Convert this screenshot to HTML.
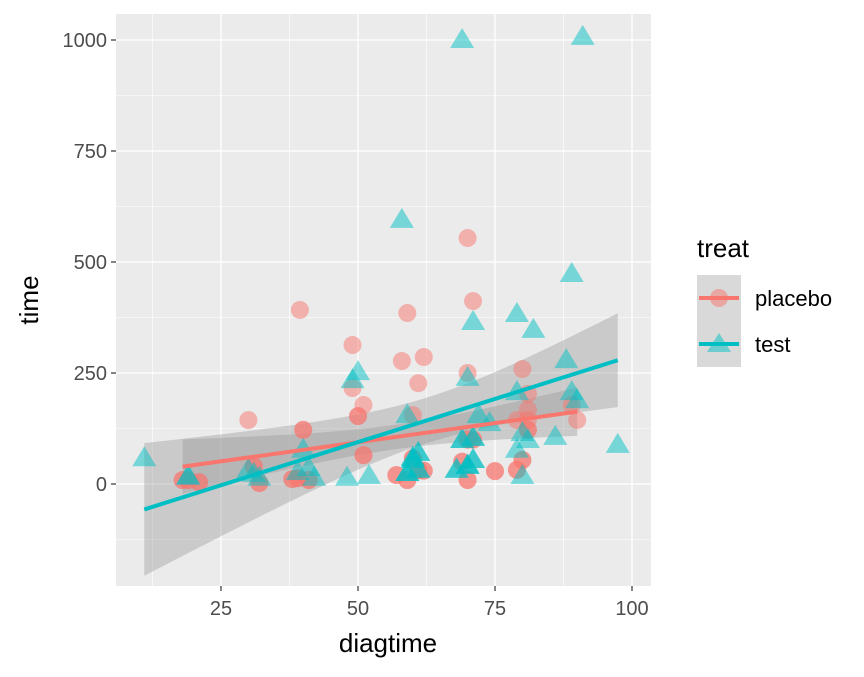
<!DOCTYPE html>
<html><head><meta charset="utf-8"><style>
body{margin:0;background:#fff;}
svg text{font-family:"Liberation Sans",Arial,sans-serif;}
</style></head><body>
<svg id="chart" width="864" height="672" xmlns="http://www.w3.org/2000/svg">
<rect x="0" y="0" width="864" height="672" fill="#fff"/>
<rect x="116" y="14" width="535" height="572" fill="#EBEBEB"/>
<g id="grid"></g><g id="bands"></g><g id="pts"></g><g id="lines"></g><g id="axes"></g>
<g>
<text x="697" y="257" font-size="26" fill="#000">treat</text>
<rect x="697" y="275" width="44" height="46" fill="#D9D9D9"/>
<rect x="697" y="321" width="44" height="46" fill="#D9D9D9"/>
<g>
<line x1="699" x2="739" y1="298" y2="298" stroke="#F8766D" stroke-width="4"/>
<circle cx="719" cy="298" r="9" fill="#F8766D" fill-opacity="0.5"/>
<text x="755" y="306" font-size="22" fill="#000">placebo</text></g>
<g>
<line x1="699" x2="739" y1="344" y2="344" stroke="#00BFC4" stroke-width="4"/>
<path d="M719,333 L731,352 L707,352 Z" fill="#00BFC4" fill-opacity="0.5"/>
<text x="755" y="352" font-size="22" fill="#000">test</text></g>
</g>
<text x="388" y="652" font-size="26" text-anchor="middle" fill="#000">diagtime</text>
<text transform="translate(38,300) rotate(-90)" font-size="26" text-anchor="middle" fill="#000">time</text>
</svg>
<script>
const placeboX=[18,19,21,30,31,32,39.4,40,39,38,41,49,49,50,51,51,59,58,61,62,60,60,59,57,61,62,70,71,70,69,70,75,70,71,80,81,81,81,81,80,79,79,90,89,
 18,21,32,38,39,41,51,57,59,60,61,62,69,70,75,79,80,70,71,81,31,19,40,50];
const placeboY=[9,9,4,144,40,2,392,122,13,11,9,313,216,153,178,65,385,277,227,286,155,58,9,20,31,30,554,412,250,50,9,29,100,100,259,203,167,122,144,54,32,144,144,178,
 9,4,2,11,13,9,65,20,9,58,31,30,50,9,29,32,54,100,100,122,40,9,122,153];
const testX=[11,19,19,30,31,32,39,40,41,42,48,49,50,52,59,59,60,60,58,61,61,69,70,71,70,69,71,72,71,74,79,82,80,79,79,80,81,86,89,89,88,90,91,97.4,68,
 59,60,61,61,70,71,68,60,59,69,71,70];
const testY=[58,18,16,32,23,14,27,77,36,14,14,234,252,18,155,25,54,59,595,32,70,1000,239,365,41,99,104,155,54,137,383,347,18,77,207,115,99,106,473,207,279,189,1007,88,32,
 25,54,32,70,41,54,32,59,25,99,104,41];
const xTicks=[25,50,75,100];
const yTicks=[0,250,500,750,1000];
const NS="http://www.w3.org/2000/svg";
const sx=v=>84+v*5.48, sy=v=>484-v*0.444;
function mk(tag,attrs,parent){const e=document.createElementNS(NS,tag);for(const k in attrs)e.setAttribute(k,attrs[k]);parent.appendChild(e);return e;}
const grid=document.getElementById('grid'),axes=document.getElementById('axes');
[12.5,37.5,62.5,87.5].forEach(v=>mk('line',{x1:sx(v),x2:sx(v),y1:14,y2:586,stroke:'#fff','stroke-width':0.6},grid));
[-125,125,375,625,875].forEach(v=>mk('line',{x1:116,x2:651,y1:sy(v),y2:sy(v),stroke:'#fff','stroke-width':0.6},grid));
xTicks.forEach(v=>{mk('line',{x1:sx(v),x2:sx(v),y1:14,y2:586,stroke:'#fff','stroke-width':1.3},grid);
 mk('line',{x1:sx(v),x2:sx(v),y1:586,y2:591,stroke:'#333','stroke-width':1.2},axes);
 const t=mk('text',{x:sx(v),y:615,'font-size':20,'text-anchor':'middle',fill:'#4D4D4D'},axes);t.textContent=v;
 
 });
yTicks.forEach(v=>{mk('line',{x1:116,x2:651,y1:sy(v),y2:sy(v),stroke:'#fff','stroke-width':1.3},grid);
 mk('line',{x1:111,x2:116,y1:sy(v),y2:sy(v),stroke:'#333','stroke-width':1.2},axes);
 const t=mk('text',{x:107,y:sy(v)+7,'font-size':20,'text-anchor':'end',fill:'#4D4D4D'},axes);t.textContent=v;
 
 });
function fit(X,Y,color,name){
 const n=X.length,mx=X.reduce((a,b)=>a+b)/n,my=Y.reduce((a,b)=>a+b)/n;
 let sxx=0,sxy=0;X.forEach((x,i)=>{sxx+=(x-mx)**2;sxy+=(x-mx)*(Y[i]-my);});
 const b=sxy/sxx,a=my-b*mx;let sse=0;X.forEach((x,i)=>sse+=(Y[i]-a-b*x)**2);
 const s=Math.sqrt(sse/(n-2)),lo=Math.min(...X),hi=Math.max(...X);
 const up=[],dn=[];
 for(let k=0;k<=40;k++){const x=lo+(hi-lo)*k/40,f=a+b*x,se=2.0*s*Math.sqrt(1/n+(x-mx)**2/sxx);up.push(sx(x)+','+sy(f+se));dn.unshift(sx(x)+','+sy(f-se));}
 const band=mk('polygon',{points:up.concat(dn).join(' '),fill:'#999','fill-opacity':0.4},document.getElementById('bands'));
 
 
 const l=mk('line',{x1:sx(lo),y1:sy(a+b*lo),x2:sx(hi),y2:sy(a+b*hi),stroke:color,'stroke-width':4},document.getElementById('lines'));
 
 
}
fit(placeboX,placeboY,'#F8766D','placebo');
fit(testX,testY,'#00BFC4','test');
const pts=document.getElementById('pts');
placeboX.forEach((x,i)=>{const c=mk('circle',{cx:sx(x),cy:sy(placeboY[i]),r:9,fill:'#F8766D','fill-opacity':0.5},pts);
 
 });
testX.forEach((x,i)=>{const X=sx(x),Y=sy(testY[i]);
 const p=mk('path',{d:`M${X},${Y-12} L${X+12},${Y+8} L${X-12},${Y+8} Z`,fill:'#00BFC4','fill-opacity':0.5},pts);
 
 });
</script>
</body></html>
